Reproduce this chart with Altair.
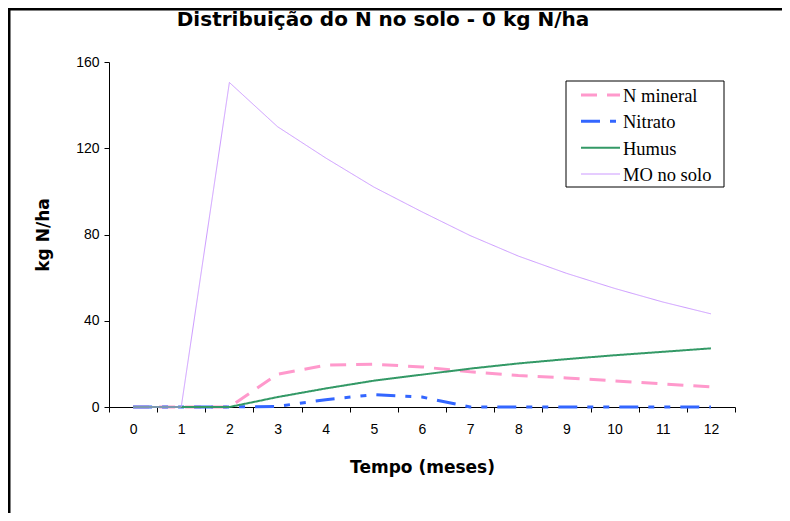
import altair as alt
import pandas as pd

meses = list(range(13))
n_mineral = [0, 0, 0, 15.2, 19.4, 19.8, 18.6, 16.3, 14.6, 13.5, 12.1, 10.7, 9.3]
nitrato = [0, 0, 0, 0.3, 3.4, 5.7, 4.6, 0, 0, 0, 0, 0, 0]
humus = [0, 0, 0, 4.6, 8.6, 12.2, 15.0, 17.8, 20.2, 22.2, 24.0, 25.6, 27.2]
mo_solo = [0, 0, 150.5, 130, 115.5, 102, 90.5, 79.5, 70, 62, 55, 48.7, 43.2]

series = ["N mineral", "Nitrato", "Humus", "MO no solo"]
colors = ["#FF99CC", "#3366FF", "#339966", "#CC99FF"]
dashes = [[16, 10], [19, 10, 6, 10, 6, 10], [1, 0], [1, 0]]
widths = [3, 3, 2, 1]

rows = []
for name, vals in zip(series, [n_mineral, nitrato, humus, mo_solo]):
    for m, v in zip(meses, vals):
        rows.append({"mes": m, "valor": v, "serie": name})
df = pd.DataFrame(rows)
legend_df = pd.DataFrame({"serie": series})

BOLD = "DejaVu Sans"

color_enc = alt.Color("serie:N", scale=alt.Scale(domain=series, range=colors), legend=None)
dash_enc = alt.StrokeDash("serie:N", scale=alt.Scale(domain=series, range=dashes), legend=None)
width_enc = alt.StrokeWidth(
    "serie:N", scale=alt.Scale(type="ordinal", domain=series, range=widths), legend=None
)

lines = alt.Chart(df).mark_line(clip=False).encode(
    x=alt.X(
        "mes:O",
        bandPosition=0.5,
        scale=alt.Scale(type="band", paddingInner=0, paddingOuter=0),
        axis=alt.Axis(
            title="Tempo (meses)",
            labelAngle=0,
            tickBand="extent",
            tickSize=5,
            labelPadding=10,
            titleX=313,
            titleY=60,
            titleBaseline="middle",
        ),
    ),
    y=alt.Y(
        "valor:Q",
        scale=alt.Scale(domain=[0, 160], nice=False),
        axis=alt.Axis(
            title="kg N/ha",
            values=[0, 40, 80, 120, 160],
            tickSize=5,
            labelPadding=5,
            titleX=-66,
            titleY=172.5,
            titleBaseline="middle",
            titleAngle=270,
        ),
    ),
    color=color_enc,
    strokeDash=dash_enc,
    strokeWidth=width_enc,
    detail="serie:N",
)

leg_y = alt.Y(
    "serie:N",
    sort=series,
    scale=alt.Scale(type="point", domain=series, range=[33, 112], padding=0),
    axis=None,
)
legend_sym = alt.Chart(legend_df).mark_rule().encode(
    x=alt.value(472),
    x2=alt.value(511),
    y=leg_y,
    color=color_enc,
    strokeDash=dash_enc,
    strokeWidth=width_enc,
)
legend_txt = alt.Chart(legend_df).mark_text(
    align="left", baseline="middle", font="Liberation Serif", fontSize=18.5, color="black", dy=1
).encode(x=alt.value(514), y=leg_y, text="serie:N")

one = pd.DataFrame({"a": [0]})
legend_box = alt.Chart(one).mark_rect(fill="white", stroke="black", strokeWidth=1).encode(
    x=alt.value(457), x2=alt.value(615), y=alt.value(19), y2=alt.value(125)
)
frame_left = alt.Chart(one).mark_rule(color="black", strokeWidth=3).encode(
    x=alt.value(-100), y=alt.value(-54.5), y2=alt.value(700)
)
frame_top = alt.Chart(one).mark_rule(color="black", strokeWidth=3).encode(
    x=alt.value(-101.5), x2=alt.value(900), y=alt.value(-53)
)

chart = alt.layer(
    legend_box, lines, legend_sym, legend_txt, frame_left, frame_top
).resolve_scale(y="independent").properties(
    width=626,
    height=345,
    autosize=alt.AutoSizeParams(type="none"),
    padding={"left": 101, "top": 54, "right": 47, "bottom": 106},
    title=alt.TitleParams(
        "Distribuição do N no solo - 0 kg N/ha",
        font=BOLD,
        fontSize=20,
        fontWeight="bold",
        anchor="middle",
        dx=-39,
        offset=-24,
        color="black",
    ),
).configure_view(stroke=None).configure_axis(
    domainColor="black",
    tickColor="black",
    labelColor="black",
    labelFont="Liberation Sans",
    labelFontSize=14,
    titleFont=BOLD,
    titleFontSize=17,
    titleFontWeight="bold",
    titleColor="black",
    grid=False,
)

chart.save("out.html", embed_options={"renderer": "svg", "actions": False})
